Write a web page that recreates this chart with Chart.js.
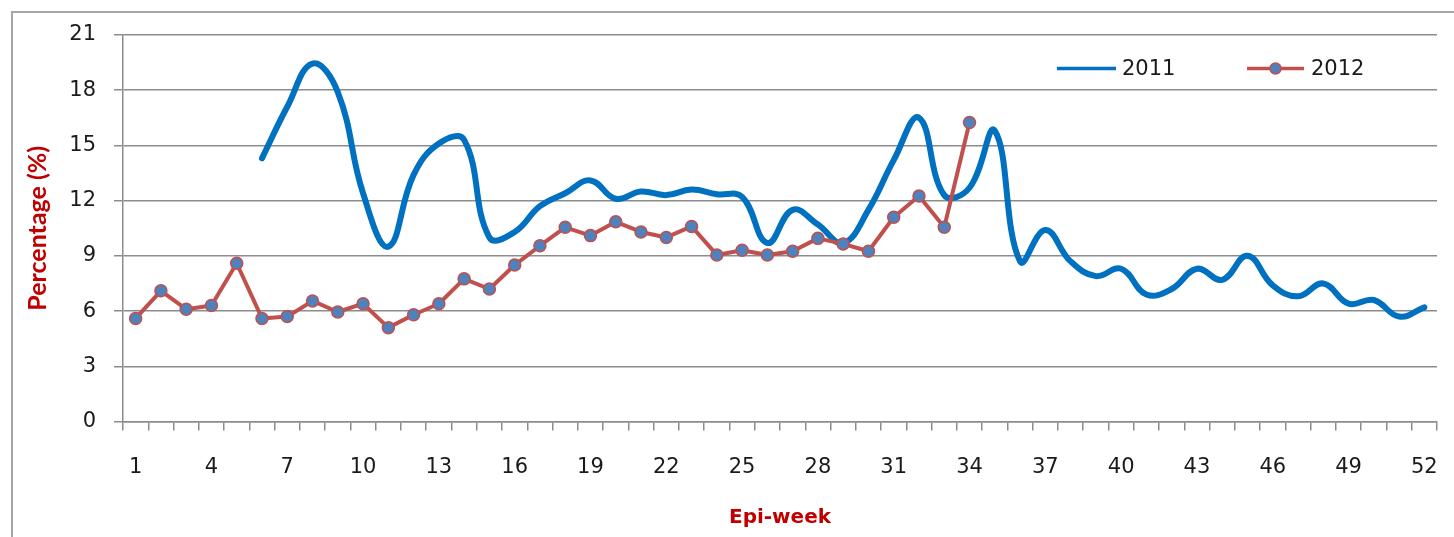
<!DOCTYPE html>
<html>
<head>
<meta charset="utf-8">
<script src="https://cdn.jsdelivr.net/npm/chart.js@4/dist/chart.umd.min.js"></script>
<style>
  html, body { margin: 0; padding: 0; background: #ffffff; }
  #wrap { position: relative; width: 1454px; height: 537px; }
</style>
</head>
<body>
<div id="wrap"><canvas id="c" width="1454" height="537"></canvas></div>
<script>
// ---- data ----
const weeks = Array.from({length: 52}, (_, i) => String(i + 1));
const seriesLabels = ["2011", "2012"];
const values2011 = [null, null, null, null, null,
  14.3, 17.1, 19.45, 17.9, 12.4, 9.5, 13.4, 15.1, 15.3, 10.0, 10.3, 11.7, 12.4, 13.1, 12.1,
  12.5, 12.3, 12.6, 12.35, 12.2, 9.7, 11.5, 10.7, 9.7, 11.5, 14.2, 16.5, 12.3, 12.7, 15.8,
  8.7, 10.4, 8.7, 7.9, 8.3, 6.9, 7.2, 8.3, 7.7, 9.0, 7.4, 6.8, 7.5, 6.4, 6.6, 5.7, 6.2];
const values2012 = [5.6, 7.1, 6.1, 6.3, 8.6, 5.6, 5.7, 6.55, 5.95, 6.4, 5.1, 5.8, 6.4, 7.75,
  7.2, 8.5, 9.55, 10.55, 10.1, 10.85, 10.3, 10.0, 10.6, 9.05, 9.3, 9.05, 9.25, 9.95, 9.65,
  9.25, 11.1, 12.25, 10.55, 16.25];
const yTicks = [0, 3, 6, 9, 12, 15, 18, 21];
const yTitle = "Percentage (%)";
const xTitle = "Epi-week";

const C2011 = "#0070C0";
const C2012 = "#C0504D";
const CMARK = "#4F81BD";
const GRID = "#8c8c8c";
const TXT = "#1a1a1a";
const RED = "#C00000";

const frame = {
  id: "frame",
  beforeDraw(chart) {
    const ctx = chart.ctx;
    ctx.save();
    ctx.strokeStyle = "#a6a6a6";
    ctx.lineWidth = 2;
    ctx.strokeRect(12, 12, chart.width + 20, chart.height + 20);
    ctx.restore();
  }
};

const legendPlugin = {
  id: "customLegend",
  afterDraw(chart) {
    const ctx = chart.ctx;
    const a = chart.chartArea;
    const y = a.top + 33.5;
    const items = [
      {ds: chart.data.datasets[0], x0: 1057, x1: 1116, tx: 1122, marker: false},
      {ds: chart.data.datasets[1], x0: 1247, x1: 1304, tx: 1311, marker: true}
    ];
    ctx.save();
    items.forEach(it => {
      ctx.strokeStyle = it.ds.borderColor;
      ctx.lineWidth = 3.5;
      ctx.beginPath();
      ctx.moveTo(it.x0, y);
      ctx.lineTo(it.x1, y);
      ctx.stroke();
      if (it.marker) {
        ctx.beginPath();
        ctx.arc((it.x0 + it.x1) / 2, y, 5.5, 0, Math.PI * 2);
        ctx.fillStyle = it.ds.pointBackgroundColor;
        ctx.fill();
        ctx.lineWidth = 1.5;
        ctx.strokeStyle = it.ds.pointBorderColor;
        ctx.stroke();
      }
      ctx.fillStyle = TXT;
      ctx.font = "21px 'DejaVu Sans'";
      ctx.textBaseline = "middle";
      ctx.textAlign = "left";
      ctx.fillText(it.ds.label, it.tx, y + 1);
    });
    ctx.restore();
  }
};

new Chart(document.getElementById("c"), {
  type: "line",
  data: {
    labels: weeks,
    datasets: [
      {
        label: seriesLabels[0],
        data: values2011,
        borderColor: C2011,
        backgroundColor: C2011,
        borderWidth: 6,
        pointRadius: 0,
        tension: 0.42,
        borderCapStyle: "round",
        borderJoinStyle: "round",
        order: 1
      },
      {
        label: seriesLabels[1],
        data: values2012,
        borderColor: C2012,
        backgroundColor: C2012,
        borderWidth: 4,
        pointRadius: 6,
        pointBorderWidth: 1.5,
        pointBackgroundColor: CMARK,
        pointBorderColor: C2012,
        tension: 0,
        borderJoinStyle: "round",
        order: 0
      }
    ]
  },
  options: {
    responsive: false,
    animation: false,
    layout: { padding: { left: 12, right: 17, top: 35, bottom: 0 } },
    plugins: { legend: { display: false }, tooltip: { enabled: false } },
    scales: {
      x: {
        type: "category",
        offset: true,
        grid: { display: true, drawOnChartArea: false, drawTicks: true, tickLength: 9, offset: true, color: GRID, lineWidth: 1.5 },
        border: { display: true, color: GRID, width: 1.5 },
        ticks: {
          autoSkip: false, maxRotation: 0, minRotation: 0, padding: 24,
          color: TXT, font: { family: "'DejaVu Sans'", size: 21 },
          callback: function(v, i) { return (i % 3 === 0) ? this.getLabelForValue(v) : ""; }
        },
        title: { display: true, text: xTitle, color: RED, font: { family: "'DejaVu Sans'", size: 20, weight: "bold" }, padding: { top: 0, bottom: 7 } },
        afterFit(s) { s.height = 115.5; s.paddingLeft = 0; s.paddingRight = 0; }
      },
      y: {
        min: 0, max: 21,
        afterBuildTicks(s) { s.ticks = yTicks.map(v => ({ value: v })); },
        grid: { color: GRID, lineWidth: 1.5, tickLength: 9, drawTicks: true },
        border: { display: true, color: GRID, width: 1.5 },
        ticks: { padding: 18, color: TXT, font: { family: "'DejaVu Sans'", size: 21 } },
        title: { display: true, text: yTitle, color: RED, font: { family: "Lato", size: 25, weight: "bold" }, padding: { top: 11, bottom: 0 } },
        afterFit(s) { s.width = 111; s.paddingTop = 0; s.paddingBottom = 0; }
      }
    }
  },
  plugins: [frame, legendPlugin]
});
</script>
</body>
</html>
